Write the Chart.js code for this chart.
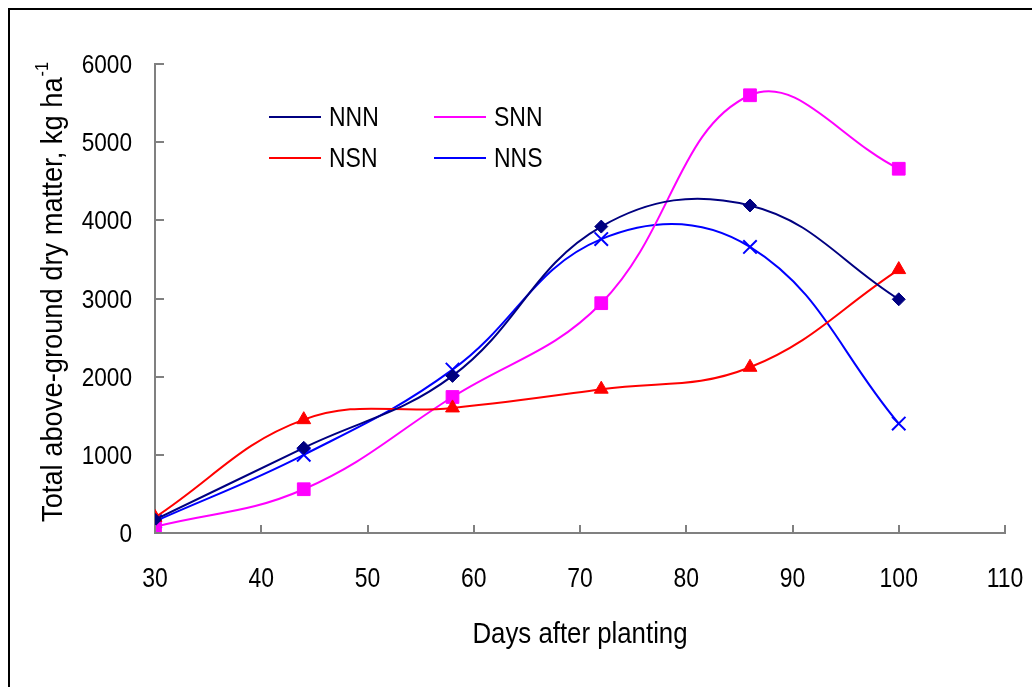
<!DOCTYPE html>
<html>
<head>
<meta charset="utf-8">
<script src="https://cdn.jsdelivr.net/npm/chart.js@4.4.1/dist/chart.umd.min.js"></script>
<style>
  html, body { margin: 0; padding: 0; background: #fff; }
  #wrap { width: 1032px; height: 687px; position: relative; }
</style>
</head>
<body>
<div id="wrap"><canvas id="chart" width="1032" height="687"></canvas></div>
<script>
// data
const days = [30, 44, 58, 72, 86, 100];
const nnn = [170, 1090, 2010, 3920, 4190, 2990];
const snn = [80, 560, 1740, 2940, 5600, 4660];
const nsn = [200, 1450, 1600, 1840, 2120, 3370];
const nns = [150, 1000, 2090, 3760, 3660, 1400];
const xTicks = [30, 40, 50, 60, 70, 80, 90, 100, 110];
const yTicks = [0, 1000, 2000, 3000, 4000, 5000, 6000];

const FONT = '"Liberation Sans", Arial, sans-serif';

function pts(vals) {
    return vals.map((v, i) => ({ x: days[i], y: v }));
}

function serie(label, vals, color, style, radius) {
    return {
        label: label,
        data: pts(vals),
        borderColor: color,
        backgroundColor: color,
        borderWidth: 2,
        pointStyle: style,
        pointRadius: radius,
        pointHoverRadius: radius,
        pointBorderWidth: style === 'crossRot' ? 2 : 1,
        tension: 0.4,
        fill: false
    };
}

// narrow text: the source font is a condensed sans
function narrowText(ctx, txt, x, y, size, sx, align) {
    ctx.save();
    ctx.translate(x, y);
    ctx.scale(sx, 1);
    ctx.font = size + 'px ' + FONT;
    ctx.textAlign = align;
    ctx.fillText(txt, 0, 0);
    ctx.restore();
}

// ticks pointing inside, tick labels, titles, legend and frame
const extras = {
    id: 'extras',
    afterDraw(chart) {
        const ctx = chart.ctx;
        const xs = chart.scales.x, ys = chart.scales.y;
        const a = chart.chartArea;
        ctx.save();

        // frame (top and left edges only are visible)
        ctx.strokeStyle = '#000';
        ctx.lineWidth = 2;
        ctx.beginPath();
        ctx.moveTo(9, 687);
        ctx.lineTo(9, 9);
        ctx.lineTo(1032, 9);
        ctx.stroke();

        // inward ticks
        ctx.strokeStyle = '#808080';
        ctx.lineWidth = 2;
        ctx.beginPath();
        xs.ticks.forEach((t) => {
            const px = Math.round(xs.getPixelForValue(t.value));
            ctx.moveTo(px, a.bottom);
            ctx.lineTo(px, a.bottom - 8);
        });
        ys.ticks.forEach((t) => {
            const py = Math.round(ys.getPixelForValue(t.value));
            ctx.moveTo(a.left, py);
            ctx.lineTo(a.left + 9, py);
        });
        ctx.stroke();

        // tick labels
        ctx.fillStyle = '#000';
        ctx.textBaseline = 'alphabetic';
        xs.ticks.forEach((t) => {
            narrowText(ctx, String(t.value), xs.getPixelForValue(t.value), 587, 27, 0.85, 'center');
        });
        ys.ticks.forEach((t) => {
            narrowText(ctx, String(t.value), 132, ys.getPixelForValue(t.value) + 9, 26, 0.87, 'right');
        });

        // axis titles
        narrowText(ctx, 'Days after planting', (a.left + a.right) / 2, 643, 30, 0.86, 'center');

        ctx.save();
        ctx.translate(62, 522);
        ctx.rotate(-Math.PI / 2);
        ctx.scale(0.91, 1);
        ctx.font = '30px ' + FONT;
        ctx.textAlign = 'left';
        const main = 'Total above-ground dry matter, kg ha';
        const w1 = ctx.measureText(main).width;
        ctx.fillText(main, 0, 0);
        ctx.font = '18px ' + FONT;
        ctx.fillText('-1', w1 + 1, -14);
        ctx.restore();

        // legend
        const spots = [[269, 117], [269, 158], [434, 117], [434, 158]];
        chart.data.datasets.forEach((ds, i) => {
            const [lx, ly] = spots[i];
            ctx.strokeStyle = ds.borderColor;
            ctx.lineWidth = 2;
            ctx.beginPath();
            ctx.moveTo(lx, ly);
            ctx.lineTo(lx + 52, ly);
            ctx.stroke();
            ctx.fillStyle = ds.backgroundColor;
            ctx.lineWidth = ds.pointBorderWidth;
            Chart.helpers.drawPoint(ctx, {
                pointStyle: ds.pointStyle,
                rotation: 0,
                borderWidth: ds.pointBorderWidth
            }, lx + 26, ly, ds.pointRadius);
            ctx.fillStyle = '#000';
            narrowText(ctx, ds.label, lx + 60, ly + 9, 28, 0.82, 'left');
        });
        ctx.restore();
    }
};

new Chart(document.getElementById('chart'), {
    type: 'line',
    data: {
        datasets: [
            serie('NNN', nnn, '#000080', 'rectRot', 6.5),
            serie('NSN', nsn, '#FF0000', 'triangle', 8),
            serie('SNN', snn, '#FF00FF', 'rect', 9),
            serie('NNS', nns, '#0000FF', 'crossRot', 9.5)
        ]
    },
    plugins: [extras],
    options: {
        responsive: false,
        animation: false,
        layout: { padding: { left: 0, top: 64, right: 27, bottom: 0 } },
        plugins: {
            legend: { display: false },
            tooltip: { enabled: false }
        },
        scales: {
            x: {
                type: 'linear',
                min: 30,
                max: 110,
                afterBuildTicks: (s) => { s.ticks = xTicks.map((v) => ({ value: v })); },
                afterFit: (s) => { s.height = 154; },
                grid: { display: true, drawOnChartArea: false, drawTicks: false },
                border: { display: true, color: '#808080', width: 2 },
                ticks: { display: false }
            },
            y: {
                type: 'linear',
                min: 0,
                max: 6000,
                afterBuildTicks: (s) => { s.ticks = yTicks.map((v) => ({ value: v })); },
                afterFit: (s) => { s.width = 155; },
                grid: { display: true, drawOnChartArea: false, drawTicks: false },
                border: { display: true, color: '#808080', width: 2 },
                ticks: { display: false }
            }
        }
    }
});
</script>
</body>
</html>
